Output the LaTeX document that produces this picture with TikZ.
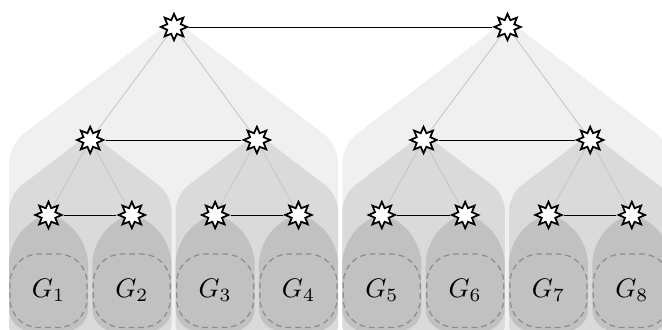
\documentclass[tikz,border=0pt]{standalone}
\usetikzlibrary{shapes.geometric}
\definecolor{lightr}{gray}{0.94}
\definecolor{midr}{gray}{0.855}
\definecolor{darkr}{gray}{0.755}
\definecolor{treec}{gray}{0.78}
\pgfdeclarelayer{regions}
\pgfdeclarelayer{edges}
\pgfsetlayers{regions,edges,main}
\tikzset{
  hub/.style={star, star points=8, star point ratio=1.8, draw=black, fill=white,
              line width=0.8pt, minimum size=12pt, inner sep=0pt},
  link/.style={black, line width=0.45pt},
  treeedge/.style={treec, line width=0.4pt},
  gbox/.style={draw=gray!90, line width=0.55pt, dash pattern=on 2.6pt off 1.8pt, rounded corners=13pt},
  glabel/.style={inner sep=0pt, scale=1.22}
}
\begin{document}
\begin{tikzpicture}[x=0.4545pt,y=-0.4545pt]
\useasboundingbox (0,0) rectangle (662,329);
\clip (0,0) rectangle (662,329);
% star nodes
\foreach \i in {1,...,8}{
  \pgfmathsetmacro\cx{48.5+(\i-1)*83.33}
  \node[hub] (l\i) at (\cx,215) {};
}
\foreach \p in {1,...,4}{
  \pgfmathsetmacro\cx{90.2+(\p-1)*166.67}
  \node[hub] (m\p) at (\cx,140) {};
}
\node[hub] (t1) at (174,27) {};
\node[hub] (t2) at (507.5,27) {};
\begin{pgfonlayer}{regions}
% lightest regions
\foreach \h in {0,1}{
  \pgfmathsetmacro\lx{9+\h*333.33}
  \pgfmathsetmacro\rx{338+\h*333.33}
  \pgfmathsetmacro\tx{174+\h*333.33}
  \fill[lightr, rounded corners=8pt] (\tx,19) -- (\lx,145) -- (\lx,345) -- (\rx,345) -- (\rx,145) -- cycle;
}
% middle regions
\foreach \p in {0,...,3}{
  \pgfmathsetmacro\lx{9+\p*166.67}
  \pgfmathsetmacro\rx{171.5+\p*166.67}
  \pgfmathsetmacro\tx{90.2+\p*166.67}
  \fill[midr, rounded corners=7pt] (\tx,133) -- (\lx,195) -- (\lx,340) -- (\rx,340) -- (\rx,195) -- cycle;
}
% leaf regions and dashed boxes
\foreach \i in {1,...,8}{
  \pgfmathsetmacro\cx{48.5+(\i-1)*83.33}
  \fill[darkr, rounded corners=10pt] (\cx,208) -- (\cx-39.5,241) -- (\cx-39.5,331) -- (\cx+39.5,331) -- (\cx+39.5,241) -- cycle;
  \draw[gbox] (\cx-38.5,254) rectangle (\cx+38.5,327.5);
  \node[glabel] (g\i) at (\cx,290.5) {$G_{\i}$};
}
\end{pgfonlayer}
\begin{pgfonlayer}{edges}
\draw[treeedge] (t1) -- (m1) (t1) -- (m2) (t2) -- (m3) (t2) -- (m4);
\draw[treeedge] (m1) -- (l1) (m1) -- (l2) (m2) -- (l3) (m2) -- (l4)
                (m3) -- (l5) (m3) -- (l6) (m4) -- (l7) (m4) -- (l8);
\draw[link] (t1) -- (t2);
\draw[link] (m1) -- (m2) (m3) -- (m4);
\draw[link] (l1) -- (l2) (l3) -- (l4) (l5) -- (l6) (l7) -- (l8);
\end{pgfonlayer}
\end{tikzpicture}
\end{document}
